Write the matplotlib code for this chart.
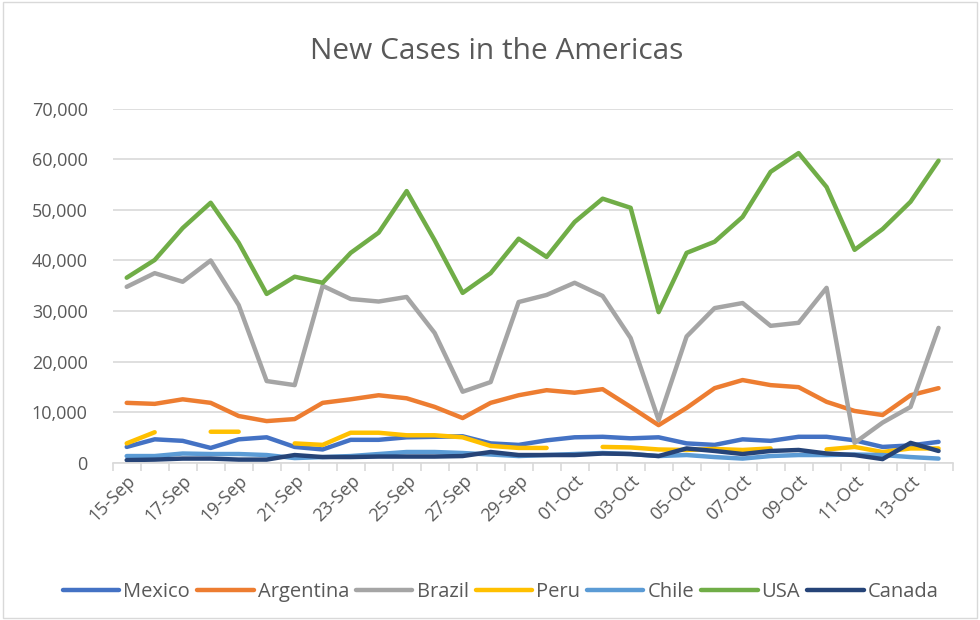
import numpy as np
import matplotlib
matplotlib.use('Agg')
import matplotlib.pyplot as plt
from matplotlib.ticker import FuncFormatter

plt.rcParams['font.family'] = ['Open Sans', 'DejaVu Sans']

dates = ['15-Sep', '16-Sep', '17-Sep', '18-Sep', '19-Sep', '20-Sep', '21-Sep', '22-Sep', '23-Sep', '24-Sep',
         '25-Sep', '26-Sep', '27-Sep', '28-Sep', '29-Sep', '30-Sep', '01-Oct', '02-Oct', '03-Oct', '04-Oct',
         '05-Oct', '06-Oct', '07-Oct', '08-Oct', '09-Oct', '10-Oct', '11-Oct', '12-Oct', '13-Oct', '14-Oct']

mexico = [3200, 4700, 4400, 3000, 4700, 5100, 3200, 2700, 4600, 4600,
          5100, 5200, 5300, 3900, 3600, 4500, 5100, 5200, 4900, 5100,
          3900, 3600, 4700, 4400, 5200, 5200, 4500, 3200, 3500, 4200]
argentina = [11900, 11700, 12600, 11900, 9300, 8300, 8700, 11900, 12600, 13400,
             12800, 11100, 8900, 11900, 13400, 14400, 13900, 14600, 11100, 7500,
             10900, 14800, 16400, 15400, 15000, 12100, 10300, 9500, 13400, 14800]
brazil = [34800, 37500, 35800, 40000, 31200, 16200, 15400, 35000, 32400, 31900,
          32800, 25700, 14100, 16000, 31800, 33200, 35600, 33000, 24700, 8500,
          25000, 30600, 31600, 27100, 27700, 34600, 4000, 8000, 11100, 26700]
nan = np.nan
peru = [3900, 6100, nan, 6200, 6200, nan, 3900, 3600, 6000, 6000,
        5500, 5500, 5100, 3400, 3000, 3000, nan, 3200, 3100, 2700,
        2600, 2800, 2600, 2900, nan, 2700, 3200, 2200, 2900, 2900]
chile = [1400, 1400, 1900, 1800, 1800, 1600, 1000, 1200, 1400, 1800,
         2200, 2200, 2000, 1700, 1400, 1600, 1800, 2000, 1800, 1400,
         1600, 1200, 900, 1400, 1600, 1600, 1700, 1600, 1200, 900]
usa = [36600, 40100, 46400, 51400, 43500, 33400, 36800, 35600, 41500, 45500,
       53700, 44000, 33600, 37500, 44300, 40700, 47600, 52200, 50400, 29800,
       41500, 43700, 48600, 57500, 61200, 54500, 42100, 46200, 51600, 59700]
canada = [600, 700, 900, 900, 700, 700, 1600, 1200, 1200, 1300,
          1300, 1300, 1400, 2200, 1600, 1600, 1600, 1900, 1800, 1400,
          2900, 2400, 1800, 2400, 2600, 1900, 1600, 800, 4000, 2400]

names = ['Mexico', 'Argentina', 'Brazil', 'Peru', 'Chile', 'USA', 'Canada']
series = [mexico, argentina, brazil, peru, chile, usa, canada]
colors = ['#4472C4', '#ED7D31', '#A5A5A5', '#FFC000', '#5B9BD5', '#70AD47', '#264478']

fig = plt.figure(figsize=(9.8, 6.2), dpi=100)
ax = fig.add_axes([0.115, 0.253, 0.857, 0.572])

x = np.arange(len(dates))
for name, vals, c in zip(names, series, colors):
    ax.plot(x, vals, color=c, lw=3.2, label=name, solid_capstyle='round', solid_joinstyle='round')

ax.set_xlim(-0.5, len(dates) - 0.5)
ax.set_ylim(0, 70000)
ax.set_yticks(np.arange(0, 70001, 10000))
ax.yaxis.set_major_formatter(FuncFormatter(lambda v, p: f'{int(v):,}'))
ax.grid(axis='y', color='#D9D9D9', lw=1.2)
ax.set_axisbelow(True)
for s in ['top', 'right', 'left']:
    ax.spines[s].set_visible(False)
ax.spines['bottom'].set_color('#D9D9D9')
ax.spines['bottom'].set_linewidth(1.2)

ax.set_xticks(x[::2])
ax.set_xticklabels(dates[::2], rotation=45, ha='right', rotation_mode='anchor')
ax.set_xticks(np.arange(-0.5, len(dates)), minor=True)
ax.tick_params(axis='x', which='major', length=0, labelsize=13, colors='#595959', pad=6)
ax.tick_params(axis='x', which='minor', length=6, color='#D9D9D9', width=1.2)
ax.tick_params(axis='y', length=0, labelsize=13, colors='#595959', pad=18)

fig.suptitle('New Cases in the Americas', x=0.507, y=0.94, fontsize=21.5, color='#595959')

fig.legend(loc='lower center', ncol=7, bbox_to_anchor=(0.511, 0.0), frameon=False,
           fontsize=14.5, labelcolor='#595959', handlelength=2.8, columnspacing=0.35,
           handletextpad=0.2)

fig.patches.append(plt.Rectangle((0.003, 0.003), 0.994, 0.994, transform=fig.transFigure,
                                 fill=False, edgecolor='#D9D9D9', lw=1))

fig.savefig('out.png', dpi=100)
